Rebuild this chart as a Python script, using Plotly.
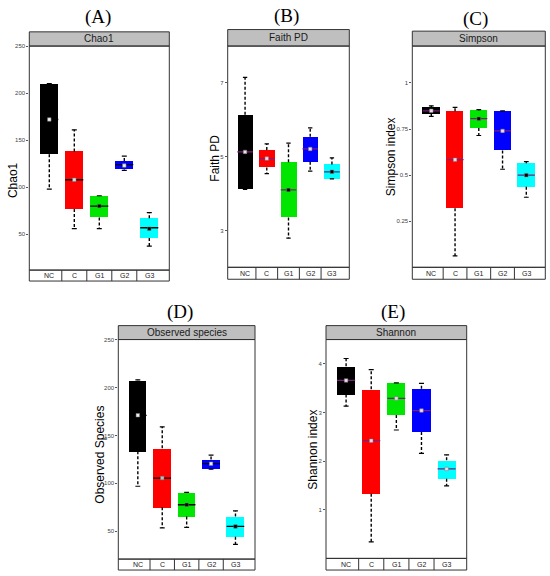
import plotly.graph_objects as go

# groups and colours shared by all five panels
groups = ["NC", "C", "G1", "G2", "G3"]
colors = ["#000000", "#ff0000", "#00e600", "#0000ff", "#00ffff"]

# (A) Chao1
chao1_lo = [98, 56, 56, 118, 37.5]
chao1_q1 = [135, 77, 68, 119, 46]
chao1_med = [172, 108, 80, 124, 57]
chao1_q3 = [210, 138, 91, 128, 67]
chao1_hi = [210, 161, 91, 133, 73]
chao1_mean = [172, 108, 80, 123, 56]

# (B) Faith PD
faith_lo = [4.11, 4.54, 2.79, 4.61, 4.40]
faith_q1 = [4.11, 4.71, 3.35, 4.86, 4.40]
faith_med = [5.13, 4.95, 4.10, 5.21, 4.59]
faith_q3 = [6.14, 5.18, 4.85, 5.54, 4.79]
faith_hi = [7.15, 5.35, 5.37, 5.78, 4.97]
faith_mean = [5.13, 4.95, 4.10, 5.21, 4.59]

# (C) Simpson
simpson_lo = [0.819, 0.062, 0.715, 0.532, 0.380]
simpson_q1 = [0.831, 0.320, 0.756, 0.634, 0.437]
simpson_med = [0.849, 0.584, 0.806, 0.740, 0.500]
simpson_q3 = [0.867, 0.846, 0.851, 0.846, 0.565]
simpson_hi = [0.876, 0.867, 0.855, 0.848, 0.573]
simpson_mean = [0.849, 0.584, 0.806, 0.740, 0.500]

# (D) Observed species
observed_lo = [97, 53.5, 54, 114.7, 36.3]
observed_q1 = [133.5, 75, 65.5, 115.5, 44.2]
observed_med = [171, 105.5, 77.7, 120.5, 55.1]
observed_q3 = [207.5, 136.5, 90, 125, 65.4]
observed_hi = [208, 159, 90.5, 129.5, 71.2]
observed_mean = [171, 105.5, 77.7, 120.5, 55.1]

# (E) Shannon
shannon_lo = [3.13, 0.34, 2.64, 2.16, 1.49]
shannon_q1 = [3.37, 1.33, 2.95, 2.60, 1.64]
shannon_med = [3.66, 2.42, 3.29, 3.04, 1.84]
shannon_q3 = [3.95, 3.48, 3.61, 3.49, 2.02]
shannon_hi = [4.11, 3.88, 3.61, 3.60, 2.13]
shannon_mean = [3.66, 2.42, 3.29, 3.04, 1.84]

W, H = 550, 576

panels = [
    dict(tag="(A)", strip="Chao1", ytitle="Chao1",
         stats=(chao1_lo, chao1_q1, chao1_med, chao1_q3, chao1_hi, chao1_mean),
         yrange=[12, 250], tickvals=[50, 100, 150, 200, 250], ticktext=None,
         box=(29.3, 169.3, 43.3, 268.5), strip_top=29, table_bot=279.5,
         tag_xy=(98, 14), ytitle_xy=(13, 178), med_color="#000000",
         mean_colors=["#eeeeee", "#dddddd", "#000000", "#eeeeee", "#000000"]),
    dict(tag="(B)", strip="Faith PD", ytitle="Faith PD",
         stats=(faith_lo, faith_q1, faith_med, faith_q3, faith_hi, faith_mean),
         yrange=[2, 8], tickvals=[3, 5, 7], ticktext=None,
         box=(227.7, 349.3, 43.3, 265.7), strip_top=26.7, table_bot=277.7,
         tag_xy=(286, 13), ytitle_xy=(215.5, 156), med_color="#7a1f7a",
         mean_colors=["#f2dcec", "#f2dcec", "#000000", "#f2dcec", "#000000"]),
    dict(tag="(C)", strip="Simpson", ytitle="Simpson index",
         stats=(simpson_lo, simpson_q1, simpson_med, simpson_q3, simpson_hi, simpson_mean),
         yrange=[0, 1.2], tickvals=[0.25, 0.5, 0.75, 1], ticktext=["0.25", "0.5", "0.75", "1"],
         box=(412.3, 545.3, 43.3, 265.7), strip_top=28.3, table_bot=277.7,
         tag_xy=(475, 16), ytitle_xy=(391, 155), med_color="#7a1f7a",
         mean_colors=["#f2dcec", "#f2dcec", "#000000", "#f2dcec", "#000000"]),
    dict(tag="(D)", strip="Observed species", ytitle="Observed Species",
         stats=(observed_lo, observed_q1, observed_med, observed_q3, observed_hi, observed_mean),
         yrange=[21, 250], tickvals=[50, 100, 150, 200, 250], ticktext=None,
         box=(118.3, 255, 338.3, 559), strip_top=324.3, table_bot=570,
         tag_xy=(180, 311), ytitle_xy=(100, 454), med_color="#000000",
         mean_colors=["#eeeeee", "#bbbbbb", "#000000", "#eeeeee", "#000000"]),
    dict(tag="(E)", strip="Shannon", ytitle="Shannon index",
         stats=(shannon_lo, shannon_q1, shannon_med, shannon_q3, shannon_hi, shannon_mean),
         yrange=[0, 4.5], tickvals=[1, 2, 3, 4], ticktext=None,
         box=(326, 466.7, 338.3, 558.3), strip_top=324.3, table_bot=570,
         tag_xy=(393, 311), ytitle_xy=(313, 449), med_color="#7a1f7a",
         mean_colors=["#f2dcec"] * 5),
]

BW = 0.72   # box width in category units
CAP = 0.1   # half width of whisker caps
frame_col = "#333333"

fig = go.Figure()
shapes = []
annotations = []
layout = {}

for k, p in enumerate(panels, start=1):
    sfx = "" if k == 1 else str(k)
    xa, ya = "x" + sfx, "y" + sfx
    lo, q1, med, q3, hi, mean = p["stats"]
    idx = list(range(len(groups)))

    # boxes
    fig.add_trace(go.Bar(x=idx, y=[b - a for a, b in zip(q1, q3)], base=q1, width=BW,
                         marker=dict(color=colors, line=dict(width=0)),
                         xaxis=xa, yaxis=ya, showlegend=False, hoverinfo="skip"))

    # dashed whiskers
    wx, wy = [], []
    for i in idx:
        wx += [i, i, None, i, i, None]
        wy += [q3[i], hi[i], None, q1[i], lo[i], None]
    fig.add_trace(go.Scatter(x=wx, y=wy, mode="lines", xaxis=xa, yaxis=ya,
                             line=dict(color="black", width=1.4, dash="3px,2px"),
                             showlegend=False, hoverinfo="skip"))

    # caps
    cx, cy = [], []
    for i in idx:
        cx += [i - CAP, i + CAP, None, i - CAP, i + CAP, None]
        cy += [hi[i], hi[i], None, lo[i], lo[i], None]
    fig.add_trace(go.Scatter(x=cx, y=cy, mode="lines", xaxis=xa, yaxis=ya,
                             line=dict(color="black", width=1.2),
                             showlegend=False, hoverinfo="skip"))

    # medians
    mx, my = [], []
    for i in idx:
        mx += [i - BW / 2, i + BW / 2, None]
        my += [med[i], med[i], None]
    fig.add_trace(go.Scatter(x=mx, y=my, mode="lines", xaxis=xa, yaxis=ya,
                             line=dict(color=p["med_color"], width=1.3),
                             showlegend=False, hoverinfo="skip"))

    # means
    fig.add_trace(go.Scatter(x=idx, y=mean, mode="markers", xaxis=xa, yaxis=ya,
                             marker=dict(symbol="square", size=3.5, color=p["mean_colors"],
                                         line=dict(color="#777777", width=0.5)),
                             showlegend=False, hoverinfo="skip"))

    x0, x1, y0, y1 = p["box"]
    ph = y1 - y0
    layout["xaxis" + sfx] = dict(domain=[x0 / W, x1 / W], range=[-0.8, 4.8],
                                 anchor=ya, showgrid=False, zeroline=False,
                                 showticklabels=False, ticks="", fixedrange=True)
    layout["yaxis" + sfx] = dict(domain=[1 - y1 / H, 1 - y0 / H], range=p["yrange"],
                                 anchor=xa, showgrid=False, zeroline=False,
                                 tickvals=p["tickvals"], ticktext=p["ticktext"],
                                 ticks="outside", ticklen=2, tickwidth=0.6, tickcolor="#555555",
                                 tickfont=dict(size=6, color="#444444", family="Liberation Sans"),
                                 fixedrange=True)

    xd, yd = xa + " domain", ya + " domain"
    st = (y0 - p["strip_top"]) / ph
    tb = (p["table_bot"] - y1) / ph

    # strip on top
    shapes.append(dict(type="rect", xref=xd, yref=yd, x0=0, x1=1, y0=1, y1=1 + st,
                       fillcolor="#bfbfbf", line=dict(color=frame_col, width=1), layer="above"))
    annotations.append(dict(xref=xd, yref=yd, x=0.5, y=1 + st / 2, text=p["strip"],
                            xanchor="center", yanchor="middle", showarrow=False,
                            font=dict(size=10, color="#1a1a1a", family="Liberation Sans")))
    # panel frame
    shapes.append(dict(type="rect", xref=xd, yref=yd, x0=0, x1=1, y0=0, y1=1,
                       line=dict(color=frame_col, width=1), layer="above"))
    # category table under the panel
    shapes.append(dict(type="rect", xref=xd, yref=yd, x0=0, x1=1, y0=-tb, y1=0,
                       line=dict(color=frame_col, width=1), layer="above"))
    for i in idx[:-1]:
        shapes.append(dict(type="line", xref=xa, yref=yd, x0=i + 0.5, x1=i + 0.5, y0=-tb, y1=0,
                           line=dict(color=frame_col, width=1)))
    for i, g in enumerate(groups):
        annotations.append(dict(xref=xa, yref=yd, x=i, y=-tb / 2, text=g, showarrow=False,
                                xanchor="center", yanchor="middle",
                                font=dict(size=7, color="#1a1a1a", family="Liberation Sans")))

    # panel letter and y title
    tx, ty = p["tag_xy"]
    annotations.append(dict(xref="paper", yref="paper", x=tx / W, y=1 - ty / H, text=p["tag"],
                            xanchor="center", yanchor="middle", showarrow=False,
                            font=dict(size=19, color="black", family="Liberation Serif")))
    yx, yy = p["ytitle_xy"]
    annotations.append(dict(xref="paper", yref="paper", x=yx / W, y=1 - yy / H, text=p["ytitle"],
                            xanchor="center", yanchor="middle", textangle=-90, showarrow=False,
                            font=dict(size=12, color="black", family="Liberation Sans")))

fig.update_layout(width=W, height=H, margin=dict(l=0, r=0, t=0, b=0),
                  paper_bgcolor="white", plot_bgcolor="white", bargap=0,
                  shapes=shapes, annotations=annotations, **layout)

# drop the default body margin so the 550x576 figure fills the window exactly
fig.write_html("out.html", config={"displayModeBar": False},
               post_script="document.body.style.margin='0';")
